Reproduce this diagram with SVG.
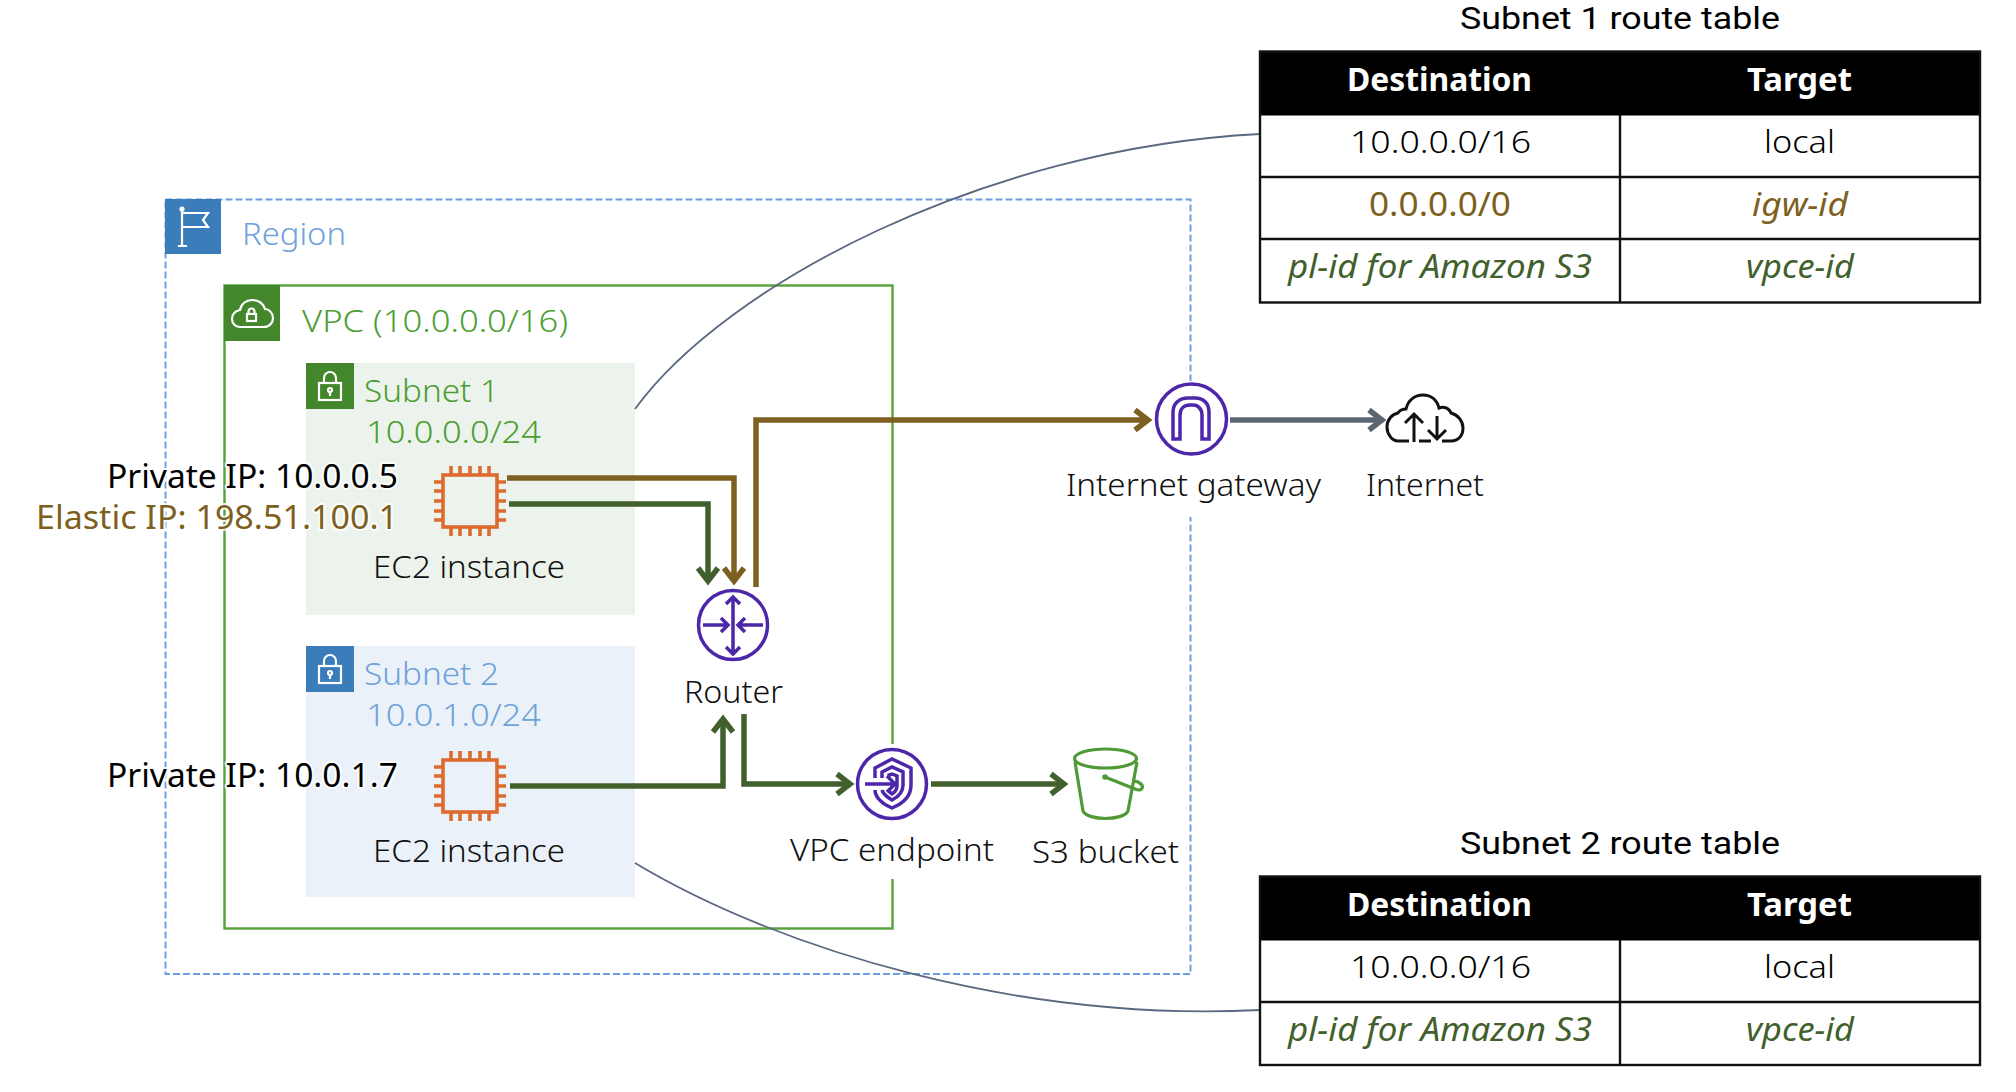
<svg xmlns="http://www.w3.org/2000/svg" width="2016" height="1092" viewBox="0 0 2016 1092">
<style>
text{font-family:"Noto Sans","Open Sans",sans-serif;font-size:32px;font-weight:300;fill:#111}
.blue{fill:#6fa3da}.grn{fill:#4c9e32}.brn{fill:#7d5f1e;font-weight:400}.dg{fill:#41602c;font-weight:400}
.it{font-style:italic}.hd{font-weight:700;fill:#fff}.blk{fill:#000;font-weight:400}.cell{fill:#000}
.ttl{font-family:Roboto,"Noto Sans",sans-serif;font-size:31px;font-weight:400;fill:#000}
.halo{paint-order:stroke;stroke:#fff;stroke-width:4px;stroke-opacity:.85;stroke-linejoin:round;font-weight:400}
.wi{fill:none;stroke:#fff;stroke-width:2.2}
.pu{fill:none;stroke:#4d27aa;stroke-width:3.5}
.chip{fill:none;stroke:#dd6b30;stroke-width:3.6}
.cl{fill:none;stroke-width:5.5}
.tb{fill:none;stroke:#111;stroke-width:2.4}
.cv{fill:none;stroke:#5a6880;stroke-width:1.8}
</style>
<defs>
<marker id="mb" markerUnits="userSpaceOnUse" markerWidth="30" markerHeight="30" viewBox="-20 -15 30 30" refX="0" refY="0" orient="auto" overflow="visible"><path d="M-13-10L0 0L-13 10" fill="none" stroke="#7d5f20" stroke-width="5.500"/></marker>
<marker id="mg" markerUnits="userSpaceOnUse" markerWidth="30" markerHeight="30" viewBox="-20 -15 30 30" refX="0" refY="0" orient="auto" overflow="visible"><path d="M-13-10L0 0L-13 10" fill="none" stroke="#41602c" stroke-width="5.500"/></marker>
<marker id="my" markerUnits="userSpaceOnUse" markerWidth="30" markerHeight="30" viewBox="-20 -15 30 30" refX="0" refY="0" orient="auto" overflow="visible"><path d="M-13-10L0 0L-13 10" fill="none" stroke="#5c6672" stroke-width="5.500"/></marker>
<g id="chipI">
<rect class="chip" x="-27" y="-26" width="54" height="52"/>
<path class="chip" d="M-19-35V-26M-10-35V-26M0-35V-26M10-35V-26M19-35V-26M-19 26V35M-10 26V35M0 26V35M10 26V35M19 26V35M-36-19H-27M-36-10H-27M-36 0H-27M-36 10H-27M-36 19H-27M27-19H36M27-10H36M27 0H36M27 10H36M27 19H36"/>
</g>
<g id="lockI">
<rect class="wi" x="319" y="383" width="22" height="17"/>
<path class="wi" d="M324 383V378A6 6 0 0 1 336 378V383"/>
<circle class="wi" cx="330" cy="390" r="2" stroke-width="1.5"/><path class="wi" d="M330 392V396" stroke-width="1.5"/>
</g>
</defs>

<g id="region">
<rect x="165.500" y="199.500" width="1025" height="774.500" fill="none" stroke="#6f9fdc" stroke-width="2" stroke-dasharray="7 3"/>
<rect x="165" y="199" width="56" height="55" fill="#3b7dbb"/>
<path class="wi" d="M182 209V246M178 246H187M182 213H208L203 220L208 227H182"/>
<circle class="wi" cx="182" cy="209" r="1.500"/>
<text class="blue" x="242" y="245" textLength="104" lengthAdjust="spacingAndGlyphs">Region</text>
</g>

<g id="vpc">
<rect x="224.500" y="285.500" width="668" height="643" fill="none" stroke="#55a23d" stroke-width="2.400"/>
<rect x="224" y="285" width="56" height="56" fill="#43862b"/>
<path class="wi" d="M240 327H264C270 327 273 322 273 318C273 313 269 309 265 309C263 303 258 300 252 300C246 300 241 304 240 310C235 311 232 314 232 319C232 324 236 327 240 327Z"/>
<rect class="wi" x="247" y="314" width="9" height="7" stroke-width="1.600"/><path class="wi" d="M248.500 314V311.500A3 3 0 0 1 254.500 311.500V314" stroke-width="1.600"/>
<text class="grn" x="302" y="332" textLength="266" lengthAdjust="spacingAndGlyphs">VPC (10.0.0.0/16)</text>
</g>

<g id="subnet1">
<rect x="306" y="363" width="329" height="252" fill="#ecf3ec"/>
<rect x="306" y="363" width="48" height="46" fill="#43862b"/>
<use href="#lockI"/>
<text class="grn" x="364" y="402" textLength="135" lengthAdjust="spacingAndGlyphs">Subnet 1</text>
<text class="grn" x="366" y="443" textLength="175" lengthAdjust="spacingAndGlyphs">10.0.0.0/24</text>
</g>

<g id="subnet2">
<rect x="306" y="646" width="329" height="251" fill="#ebf1f8"/>
<rect x="306" y="646" width="48" height="46" fill="#3b7dbb"/>
<use href="#lockI" y="283"/>
<text class="blue" x="364" y="685" textLength="135" lengthAdjust="spacingAndGlyphs">Subnet 2</text>
<text class="blue" x="366" y="726" textLength="175" lengthAdjust="spacingAndGlyphs">10.0.1.0/24</text>
</g>

<g id="label-gaps">
<rect x="1150" y="381" width="80" height="136" fill="#fff"/>
<rect x="850" y="744" width="85" height="135" fill="#fff"/>
</g>

<g id="connectors">
<path class="cv" d="M635 409C725 285 985 148 1260 134"/>
<path class="cv" d="M635 863C780 950 1020 1022 1260 1010"/>
<path class="cl" stroke="#7d5f20" d="M507 478H734V581" marker-end="url(#mb)"/>
<path class="cl" stroke="#41602c" d="M509 504H708V581" marker-end="url(#mg)"/>
<path class="cl" stroke="#7d5f20" d="M756 587V420H1148" marker-end="url(#mb)"/>
<path class="cl" stroke="#5c6672" d="M1230 420H1382" marker-end="url(#my)"/>
<path class="cl" stroke="#41602c" d="M510 786H723V719" marker-end="url(#mg)"/>
<path class="cl" stroke="#41602c" d="M744 714V784H850" marker-end="url(#mg)"/>
<path class="cl" stroke="#41602c" d="M931 784H1064" marker-end="url(#mg)"/>
</g>

<g id="ec2-1">
<use href="#chipI" x="470" y="501"/>
<text x="373" y="578" textLength="192" lengthAdjust="spacingAndGlyphs">EC2 instance</text>
<text class="halo blk" x="107" y="488" textLength="291" lengthAdjust="spacingAndGlyphs">Private IP: 10.0.0.5</text>
<text class="halo brn" x="36" y="529" textLength="362" lengthAdjust="spacingAndGlyphs">Elastic IP: 198.51.100.1</text>
</g>
<g id="ec2-2">
<use href="#chipI" x="470" y="786"/>
<text x="373" y="862" textLength="192" lengthAdjust="spacingAndGlyphs">EC2 instance</text>
<text class="halo blk" x="107" y="787" textLength="291" lengthAdjust="spacingAndGlyphs">Private IP: 10.0.1.7</text>
</g>

<g id="router">
<circle class="pu" cx="733" cy="625" r="34.500"/>
<path class="pu" d="M733 597V654M726 604L733 597L740 604M726 647L733 654L740 647M703 625H728M721 618L728 625L721 632M763 625H738M745 618L738 625L745 632"/>
<text x="684" y="703" textLength="99" lengthAdjust="spacingAndGlyphs">Router</text>
</g>

<g id="internet-gateway">
<circle class="pu" cx="1191.500" cy="419" r="35"/>
<path class="pu" stroke-width="3" d="M1173 439V412C1173 403 1180 398 1188 398H1195C1203 398 1209 403 1209 412V439H1202V415C1202 409 1198 405 1193 405H1190C1184 405 1180 409 1180 415V439Z"/>
<text x="1066" y="496" textLength="255" lengthAdjust="spacingAndGlyphs">Internet gateway</text>
</g>

<g id="internet">
<path d="M1409 441H1398C1392 441 1387 434 1387 427C1387 420 1392 414 1398 413C1400 410 1403 409 1406 409C1408 400 1415 395 1423 395C1431 395 1437 400 1439 408C1444 406 1449 408 1451 413C1458 415 1463 421 1463 428C1463 436 1458 441 1451 441H1442M1419 441H1431" fill="none" stroke="#111" stroke-width="3"/>
<path d="M1414 442V414M1405 423L1414 414L1423 423M1437 416V439M1428 430L1437 439L1446 430" fill="none" stroke="#111" stroke-width="3"/>
<text x="1366" y="496" textLength="118" lengthAdjust="spacingAndGlyphs">Internet</text>
</g>

<g id="vpc-endpoint">
<circle class="pu" cx="892" cy="784" r="34.500"/>
<path class="pu" stroke-width="3" d="M875 778V768L892 759L911 768V785C911 797 902 804 892 808C882 804 875 797 875 790M882 778V772L892 767L903 772V785C903 792 898 797 892 800C887 797 883 794 882 790M889 778V775L892 774L897 776V786C897 790 895 792 892 794C890 793 889 791 888 790M865 784H895M887 776L895 784L887 792"/>
<text x="790" y="861" textLength="204" lengthAdjust="spacingAndGlyphs">VPC endpoint</text>
</g>

<g id="s3-bucket">
<path d="M1075 762L1083 811C1088 821 1123 821 1128 811L1137 762" fill="none" stroke="#4f9a36" stroke-width="3.200"/>
<ellipse cx="1105.500" cy="758.500" rx="31" ry="9.500" fill="none" stroke="#4f9a36" stroke-width="3.200"/>
<path d="M1105 777L1135 789C1142 792 1144 787 1141 784C1139 782 1136 781 1133 781" fill="none" stroke="#4f9a36" stroke-width="3.200"/>
<circle cx="1105" cy="777" r="2.800" fill="#4f9a36"/>
<text x="1032" y="863" textLength="147" lengthAdjust="spacingAndGlyphs">S3 bucket</text>
</g>

<g id="table-1">
<text class="ttl" x="1460" y="29" textLength="320" lengthAdjust="spacingAndGlyphs">Subnet 1 route table</text>
<rect x="1260" y="51.500" width="720" height="64" fill="#000"/>
<rect class="tb" x="1260" y="51.500" width="720" height="251"/>
<path class="tb" d="M1260 177H1980M1260 239H1980M1620 115V302"/>
<text class="hd" x="1347" y="91" textLength="185" lengthAdjust="spacingAndGlyphs">Destination</text>
<text class="hd" x="1747" y="91" textLength="105" lengthAdjust="spacingAndGlyphs">Target</text>
<text class="cell" x="1350" y="153" textLength="181" lengthAdjust="spacingAndGlyphs">10.0.0.0/16</text>
<text class="cell" x="1764" y="153" textLength="71" lengthAdjust="spacingAndGlyphs">local</text>
<text class="brn" x="1369" y="216" textLength="142" lengthAdjust="spacingAndGlyphs">0.0.0.0/0</text>
<text class="brn it" x="1752" y="216" textLength="96" lengthAdjust="spacingAndGlyphs">igw-id</text>
<text class="dg it" x="1288" y="278" textLength="304" lengthAdjust="spacingAndGlyphs">pl-id for Amazon S3</text>
<text class="dg it" x="1746" y="278" textLength="108" lengthAdjust="spacingAndGlyphs">vpce-id</text>
</g>

<g id="table-2">
<text class="ttl" x="1460" y="854" textLength="320" lengthAdjust="spacingAndGlyphs">Subnet 2 route table</text>
<rect x="1260" y="876.500" width="720" height="64" fill="#000"/>
<rect class="tb" x="1260" y="876.500" width="720" height="188.500"/>
<path class="tb" d="M1260 1002H1980M1620 940V1065"/>
<text class="hd" x="1347" y="916" textLength="185" lengthAdjust="spacingAndGlyphs">Destination</text>
<text class="hd" x="1747" y="916" textLength="105" lengthAdjust="spacingAndGlyphs">Target</text>
<text class="cell" x="1350" y="978" textLength="181" lengthAdjust="spacingAndGlyphs">10.0.0.0/16</text>
<text class="cell" x="1764" y="978" textLength="71" lengthAdjust="spacingAndGlyphs">local</text>
<text class="dg it" x="1288" y="1041" textLength="304" lengthAdjust="spacingAndGlyphs">pl-id for Amazon S3</text>
<text class="dg it" x="1746" y="1041" textLength="108" lengthAdjust="spacingAndGlyphs">vpce-id</text>
</g>
</svg>
